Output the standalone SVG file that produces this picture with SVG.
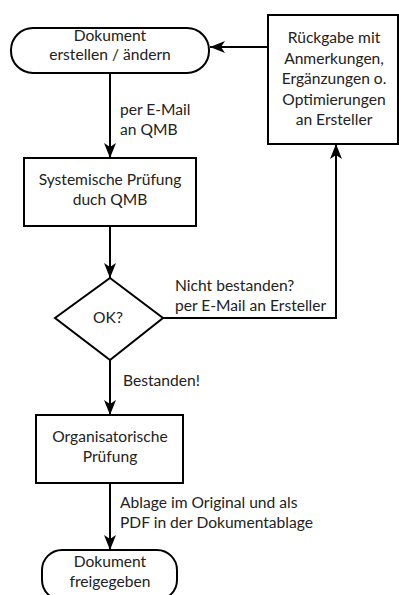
<svg xmlns="http://www.w3.org/2000/svg" width="399" height="595" viewBox="0 0 399 595">
<defs>
<marker id="arr" markerUnits="userSpaceOnUse" markerWidth="16" markerHeight="14" refX="15" refY="6" orient="auto">
<path d="M0,0 L15,6 L0,12 L4,6 Z" fill="#000"/>
</marker>
</defs>
<style>
.shape{fill:#fff;stroke:#000;stroke-width:2}
.conn{fill:none;stroke:#000;stroke-width:2;marker-end:url(#arr)}
text{font-family:Lato,"Liberation Sans",sans-serif;font-size:15.6px;fill:#222}
.c{text-anchor:middle}
</style>
<rect width="399" height="595" fill="#fff"/>
<g id="connectors">
<path class="conn" d="M110,73 V158"/>
<path class="conn" d="M110,226 V278"/>
<path class="conn" d="M110,360 V415"/>
<path class="conn" d="M110,483 V550"/>
<path class="conn" d="M163,318 H336 V144"/>
<path class="conn" d="M268,47 H210"/>
<text x="120" y="115">per E-Mail</text>
<text x="120" y="135">an QMB</text>
<text x="175" y="291">Nicht bestanden?</text>
<text x="175" y="311">per E-Mail an Ersteller</text>
<text x="123" y="386">Bestanden!</text>
<text x="120" y="508">Ablage im Original und als</text>
<text x="120" y="528">PDF in der Dokumentablage</text>
</g>
<g id="start">
<rect class="shape" x="11" y="28" width="198" height="45" rx="22" ry="22"/>
<text class="c" x="110" y="41">Dokument</text>
<text class="c" x="110" y="60">erstellen / ändern</text>
</g>
<g id="rueckgabe">
<rect class="shape" x="268" y="15" width="130" height="129"/>
<text class="c" x="334" y="43">Rückgabe mit</text>
<text class="c" x="334" y="64">Anmerkungen,</text>
<text class="c" x="334" y="84">Ergänzungen o.</text>
<text class="c" x="334" y="105">Optimierungen</text>
<text class="c" x="334" y="125">an Ersteller</text>
</g>
<g id="systemisch">
<rect class="shape" x="24" y="158" width="172" height="68"/>
<text class="c" x="110" y="185">Systemische Prüfung</text>
<text class="c" x="110" y="205">duch QMB</text>
</g>
<g id="ok">
<path class="shape" d="M110,278 L163,318 L110,360 L55,318 Z"/>
<text class="c" x="108" y="323">OK?</text>
</g>
<g id="organisatorisch">
<rect class="shape" x="36" y="415" width="147" height="68"/>
<text class="c" x="110" y="442">Organisatorische</text>
<text class="c" x="110" y="462">Prüfung</text>
</g>
<g id="ende">
<rect class="shape" x="42" y="550" width="135" height="50" rx="20" ry="20"/>
<text class="c" x="110" y="567">Dokument</text>
<text class="c" x="110" y="587">freigegeben</text>
</g>
</svg>
